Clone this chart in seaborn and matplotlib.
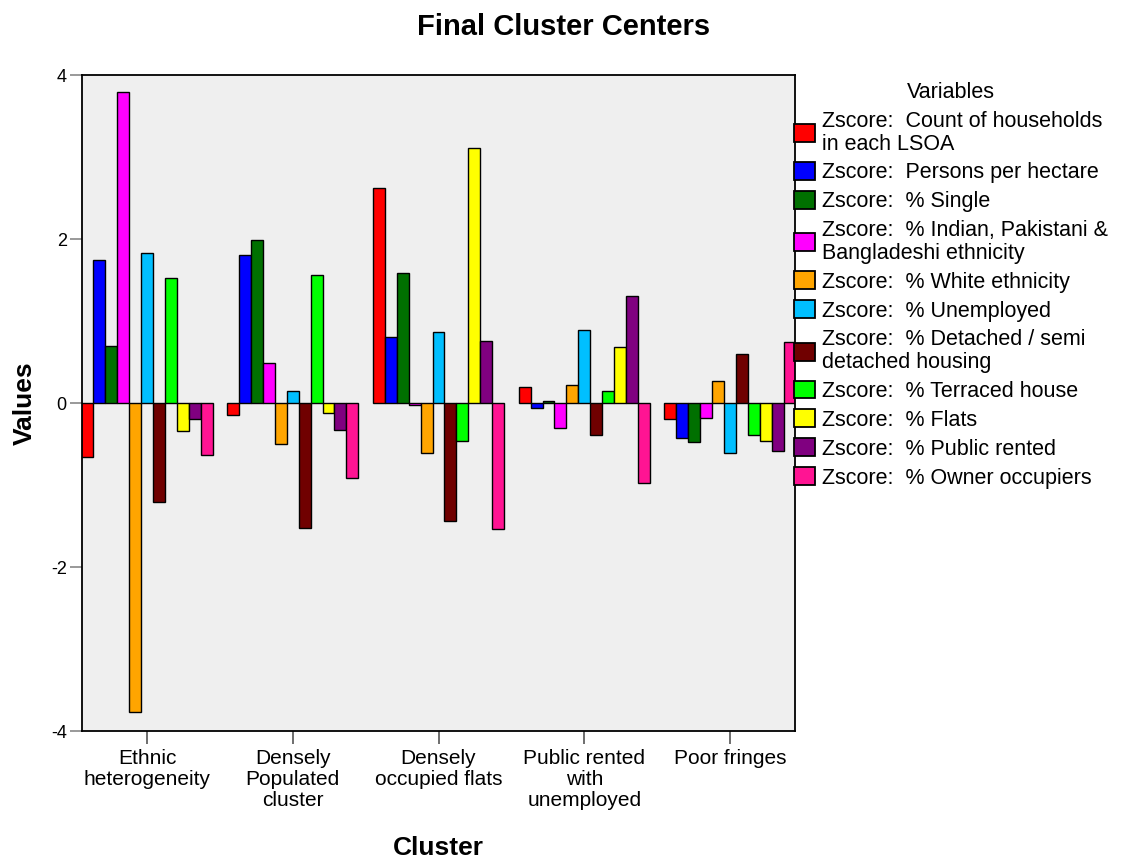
import pandas as pd
import seaborn as sns
import matplotlib.pyplot as plt

# Cluster names (x axis) and variables (hue)
clusters = ["Ethnic\nheterogeneity", "Densely\nPopulated\ncluster",
            "Densely\noccupied flats", "Public rented\nwith\nunemployed", "Poor fringes"]

variables = [
    "Zscore:  Count of households\nin each LSOA",
    "Zscore:  Persons per hectare",
    "Zscore:  % Single",
    "Zscore:  % Indian, Pakistani &\nBangladeshi ethnicity",
    "Zscore:  % White ethnicity",
    "Zscore:  % Unemployed",
    "Zscore:  % Detached / semi\ndetached housing",
    "Zscore:  % Terraced house",
    "Zscore:  % Flats",
    "Zscore:  % Public rented",
    "Zscore:  % Owner occupiers",
]

colors = ["#ff0000", "#0000ff", "#007000", "#ff00ff", "#ffa500", "#00bfff",
          "#700000", "#00ff00", "#ffff00", "#800080", "#ff1493"]

# final cluster centre values, one list per cluster (order = variables)
ethnic_het = [-0.66, 1.74, 0.70, 3.79, -3.77, 1.83, -1.21, 1.52, -0.34, -0.19, -0.63]
dense_pop = [-0.15, 1.81, 1.99, 0.49, -0.50, 0.15, -1.52, 1.56, -0.12, -0.33, -0.91]
dense_flats = [2.62, 0.81, 1.59, -0.03, -0.61, 0.86, -1.44, -0.46, 3.11, 0.76, -1.54]
public_rented = [0.20, -0.06, 0.02, -0.30, 0.22, 0.89, -0.39, 0.15, 0.68, 1.31, -0.98]
poor_fringes = [-0.19, -0.43, -0.48, -0.18, 0.27, -0.61, 0.60, -0.39, -0.46, -0.58, 0.74]

rows = []
for cl, vals in zip(clusters, [ethnic_het, dense_pop, dense_flats, public_rented, poor_fringes]):
    for var, v in zip(variables, vals):
        rows.append({"Cluster": cl, "Variable": var, "Value": v})
df = pd.DataFrame(rows)

sns.set_style("white")
plt.rcParams['font.family'] = ['Liberation Sans', 'DejaVu Sans']
plt.rcParams['axes.unicode_minus'] = False
plt.rcParams['text.color'] = 'black'
plt.rcParams['axes.labelcolor'] = 'black'
plt.rcParams['xtick.color'] = 'black'
plt.rcParams['ytick.color'] = 'black'

fig = plt.figure(figsize=(11.27, 8.58), dpi=100)
ax = fig.add_axes([82 / 1127, 1 - 731 / 858, 713 / 1127, 656 / 858])
ax.set_facecolor("#efefef")

sns.barplot(data=df, x="Cluster", y="Value", hue="Variable", order=clusters,
            hue_order=variables, palette=colors, width=0.9, gap=0,
            edgecolor="black", linewidth=1, saturation=1, ax=ax)

ax.set_ylim(-4, 4)
ax.set_xlim(-0.446, 4.446)
ax.set_yticks([-4, -2, 0, 2, 4])
ax.tick_params(axis="y", length=9, width=1.2, color="#888888", labelsize=13, pad=2,
               direction="out", left=True)
ax.tick_params(axis="x", length=9, width=1.2, color="#555555", labelsize=15, pad=4,
               direction="out", bottom=True)
for lbl in ax.get_xticklabels():
    lbl.set_linespacing(1.12)
for s in ax.spines.values():
    s.set_color("black")
    s.set_linewidth(1.3)

ax.set_xlabel("Cluster", fontsize=19, fontweight="bold", labelpad=19)
ax.set_ylabel("Values", fontsize=19, fontweight="bold", labelpad=10)
fig.suptitle("Final Cluster Centers", fontsize=21, fontweight="bold", y=0.985)

handles, labels = ax.get_legend_handles_labels()
ax.legend_.remove()
leg = fig.legend(handles, labels, loc="upper left", bbox_to_anchor=(779 / 1127, 1 - 67 / 858),
                 title="Variables", fontsize=15.5, title_fontsize=15.5, frameon=False,
                 handlelength=0.95, handleheight=0.9, handletextpad=0.35, labelspacing=0.35,
                 borderpad=0.2)
leg._legend_box.align = "center"
for t in leg.get_texts():
    t.set_linespacing(1.12)
for p in leg.get_patches():
    p.set_linewidth(1.3)

fig.savefig("out.png", dpi=100)
